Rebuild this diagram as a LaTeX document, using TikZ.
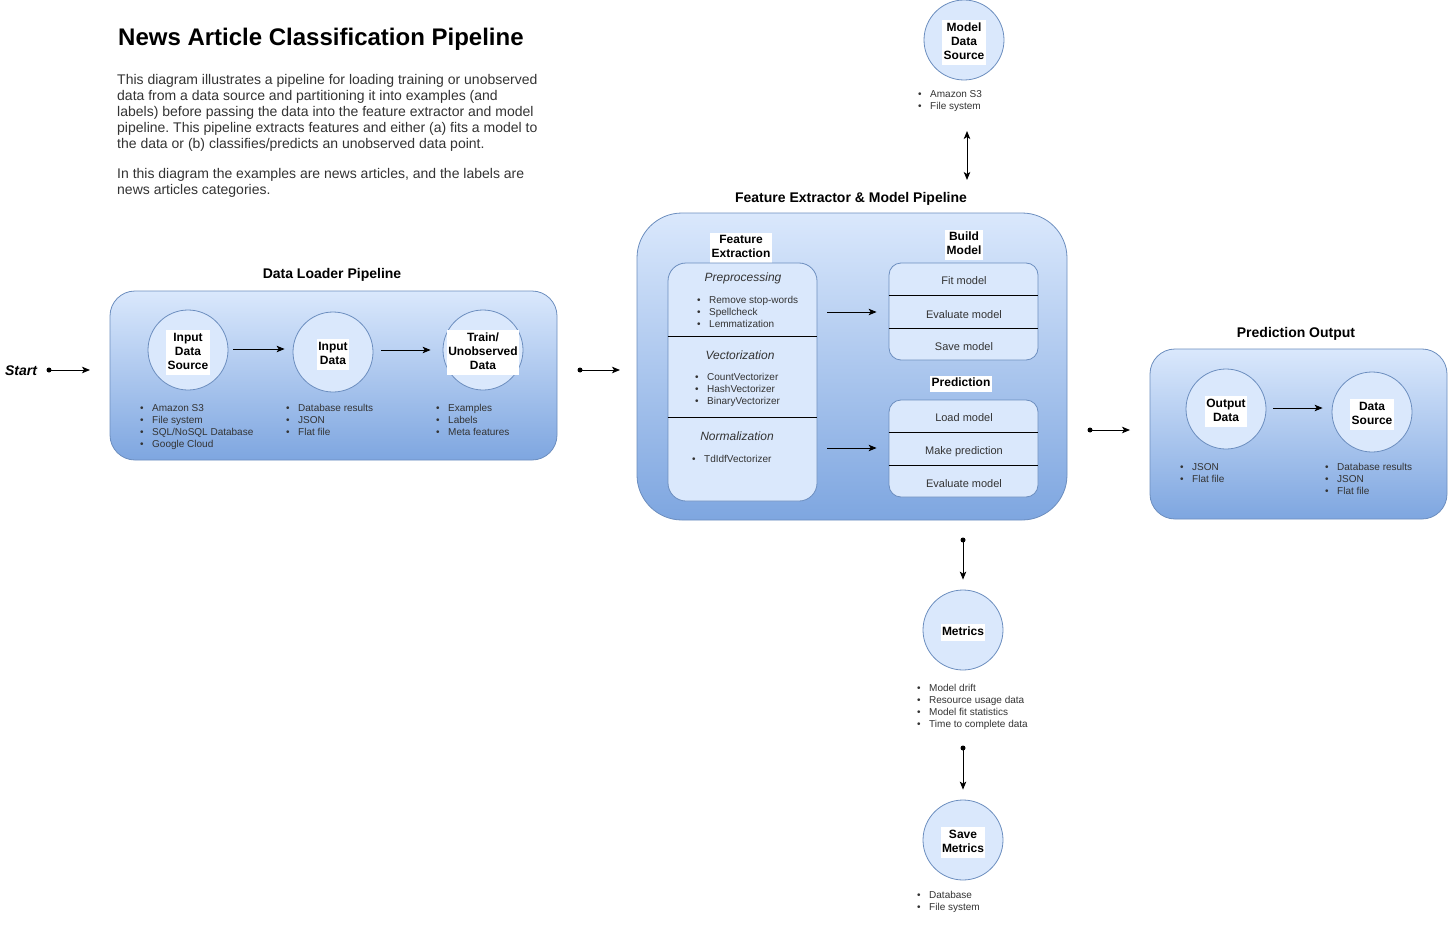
\documentclass[tikz,border=0pt]{standalone}
\usepackage{fontspec}
\setmainfont{Liberation Sans}
\usetikzlibrary{arrows.meta}
\definecolor{fillb}{HTML}{DAE8FC}
\definecolor{gradb}{HTML}{7EA6E0}
\definecolor{strokeb}{HTML}{6C8EBF}
\definecolor{txtg}{HTML}{333333}
\frenchspacing
\newcommand\wlabbox[1]{{\setlength{\fboxsep}{1.2pt}\colorbox{white}{\begin{tabular}{@{}c@{}}#1\end{tabular}}}}
\newcommand\blist[1]{{\fontsize{10}{12}\selectfont\renewcommand\arraystretch{1}\begin{tabular}{@{}l@{\hspace{8.5pt}}l@{}}#1\end{tabular}}}
\tikzset{
  cont/.style={draw=strokeb, line width=0.8pt, top color=fillb, bottom color=gradb, inner sep=0pt},
  inbox/.style={draw=strokeb, line width=0.8pt, fill=fillb, inner sep=0pt},
  circ/.style={circle, draw=strokeb, line width=0.8pt, fill=fillb, minimum size=80pt, inner sep=0pt,
    label={[inner sep=0pt, yshift=-2.5pt, font=\fontsize{12}{14}\selectfont\bfseries]center:\wlabbox{#1}}},
  sectitle/.style={font=\fontsize{14}{16}\selectfont\bfseries, inner sep=0pt, yshift=-2pt},
  bl/.style={anchor=north west, inner sep=0pt, text=txtg, yshift=-1pt},
  item/.style={font=\fontsize{11}{13}\selectfont, inner sep=0pt, text=txtg, yshift=-1.5pt},
  itit/.style={font=\fontsize{12}{14}\selectfont\itshape, inner sep=0pt, text=txtg, yshift=-2pt},
  wlab/.style={font=\fontsize{12}{14}\selectfont\bfseries, inner sep=0pt, yshift=-2pt},
  arr/.style={line width=1pt, -{Stealth[length=8pt,width=6.5pt,inset=2pt]}},
  darr/.style={line width=1pt, {Stealth[length=8pt,width=6.5pt,inset=2pt]}-{Stealth[length=8pt,width=6.5pt,inset=2pt]}},
  dot/.style={circle, fill=black, inner sep=0pt, minimum size=5pt},
  divl/.style={line width=0.8pt, draw=black}
}
\begin{document}
\begin{tikzpicture}[x=1pt,y=-1pt]
\useasboundingbox[fill=white] (0,0) rectangle (1451,931);

% Title and description
\node[anchor=west, inner sep=0pt, font=\fontsize{24}{27}\selectfont\bfseries] (title) at (118,39) {News Article Classification Pipeline};
\node[anchor=north west, inner sep=0pt, text=txtg, font=\fontsize{14}{16}\selectfont] (desc1) at (117,73)
 {\begin{tabular}{@{}l@{}}This diagram illustrates a pipeline for loading training or unobserved\\
 data from a data source and partitioning it into examples (and\\
 labels) before passing the data into the feature extractor and model\\
 pipeline. This pipeline extracts features and either (a) fits a model to\\
 the data or (b) classifies/predicts an unobserved data point.\end{tabular}};
\node[anchor=north west, inner sep=0pt, text=txtg, font=\fontsize{14}{16}\selectfont] (desc2) at (117,167)
 {\begin{tabular}{@{}l@{}}In this diagram the examples are news articles, and the labels are\\
 news articles categories.\end{tabular}};

% Start
\node[inner sep=0pt, font=\fontsize{14}{16}\selectfont\bfseries\itshape, yshift=-1pt] (start) at (21,370) {Start};
\node[dot] (sdot) at (49,370) {};
\coordinate (send) at (90,370);
\draw[arr] (sdot.center) -- (send);

% Data Loader Pipeline
\node[sectitle] (dltitle) at (332,273) {Data Loader Pipeline};
\node[cont, rounded corners=25pt, minimum width=447pt, minimum height=169pt] (dl) at (333.5,375.5) {};
\node[circ={Input\\Data\\Source}] (ids) at (188,350) {};
\node[circ={Input\\Data}] (idat) at (333,352) {};
\node[circ={Train/\\Unobserved\\Data}] (tr) at (483,350) {};
\draw[arr] ([xshift=5pt]ids.east |- 0,349) -- ([xshift=-8pt]idat.west |- 0,349);
\draw[arr] ([xshift=8pt]idat.east |- 0,350) -- ([xshift=-12pt]tr.west |- 0,350);
\node[bl] (idsl) at (140,402) {\blist{\textbullet & Amazon S3\\ \textbullet & File system\\ \textbullet & SQL/NoSQL Database\\ \textbullet & Google Cloud}};
\node[bl] (idatl) at (286,402) {\blist{\textbullet & Database results\\ \textbullet & JSON\\ \textbullet & Flat file}};
\node[bl] (trl) at (436,402) {\blist{\textbullet & Examples\\ \textbullet & Labels\\ \textbullet & Meta features}};

% Feature Extractor & Model Pipeline
\node[sectitle] (fetitle) at (851,197) {Feature Extractor \& Model Pipeline};
\node[cont, rounded corners=45pt, minimum width=430pt, minimum height=307pt] (fe) at (852,366.5) {};
\node[wlab] (felab) at (741,246) {\wlabbox{Feature\\Extraction}};
\node[inbox, rounded corners=18pt, minimum width=149pt, minimum height=238pt] (fex) at (742.5,382) {};
\draw[divl] (fex.west |- 0,336) -- (fex.east |- 0,336);
\draw[divl] (fex.west |- 0,417) -- (fex.east |- 0,417);
\node[itit] (pre) at (743,276) {Preprocessing};
\node[bl] (prel) at (697,294) {\blist{\textbullet & Remove stop-words\\ \textbullet & Spellcheck\\ \textbullet & Lemmatization}};
\node[itit] (vec) at (740,353) {Vectorization};
\node[bl] (vecl) at (695,371) {\blist{\textbullet & CountVectorizer\\ \textbullet & HashVectorizer\\ \textbullet & BinaryVectorizer}};
\node[itit] (nor) at (737,434) {Normalization};
\node[bl] (norl) at (692,453) {\blist{\textbullet & TdIdfVectorizer}};

\node[wlab] (bmlab) at (964,243) {\wlabbox{Build\\Model}};
\node[inbox, rounded corners=12pt, minimum width=149pt, minimum height=97pt] (bm) at (963.5,311.5) {};
\draw[divl] (bm.west |- 0,295) -- (bm.east |- 0,295);
\draw[divl] (bm.west |- 0,328) -- (bm.east |- 0,328);
\node[item] (fit) at (964,279) {Fit model};
\node[item] (evm) at (964,313) {Evaluate model};
\node[item] (sav) at (964,345) {Save model};

\node[wlab] (prlab) at (961,382) {\wlabbox{Prediction}};
\node[inbox, rounded corners=12pt, minimum width=149pt, minimum height=97pt] (pr) at (963.5,448.5) {};
\draw[divl] (pr.west |- 0,432) -- (pr.east |- 0,432);
\draw[divl] (pr.west |- 0,465) -- (pr.east |- 0,465);
\node[item] (lod) at (964,416) {Load model};
\node[item] (mkp) at (964,450) {Make prediction};
\node[item] (ev2) at (964,482) {Evaluate model};

\draw[arr] ([xshift=10pt]fex.east |- 0,312) -- ([xshift=-12pt]bm.west |- 0,312);
\draw[arr] ([xshift=10pt]fex.east |- 0,448) -- ([xshift=-12pt]pr.west |- 0,448);

% connection DL -> FE
\node[dot] (d1) at (580,370) {};
\coordinate (d1e) at (620,370);
\draw[arr] (d1.center) -- (d1e);

% Prediction Output
\node[sectitle] (potitle) at (1296,332) {Prediction Output};
\node[cont, rounded corners=25pt, minimum width=297pt, minimum height=170pt] (po) at (1298.5,434) {};
\node[circ={Output\\Data}] (od) at (1226,409) {};
\node[circ={Data\\Source}] (dsrc) at (1372,412) {};
\draw[arr] ([xshift=7pt]od.east |- 0,408) -- ([xshift=-9pt]dsrc.west |- 0,408);
\node[bl] (odl) at (1180,461) {\blist{\textbullet & JSON\\ \textbullet & Flat file}};
\node[bl] (dsl) at (1325,461) {\blist{\textbullet & Database results\\ \textbullet & JSON\\ \textbullet & Flat file}};

% FE -> PO
\node[dot] (d2) at (1090,430) {};
\coordinate (d2e) at (1130,430);
\draw[arr] (d2.center) -- (d2e);

% Model data source
\node[circ={Model\\Data\\Source}] (mds) at (964,40) {};
\node[bl] (mdsl) at (918,88) {\blist{\textbullet & Amazon S3\\ \textbullet & File system}};
\coordinate (ma) at (967,131);
\coordinate (mb) at (967,180);
\draw[darr] (ma) -- (mb);

% Metrics
\node[dot] (d3) at (963,540) {};
\node[circ={Metrics}] (met) at (963,630) {};
\draw[arr] (d3.center) -- ([yshift=10pt]met.north);
\node[bl] (metl) at (917,682) {\blist{\textbullet & Model drift\\ \textbullet & Resource usage data\\ \textbullet & Model fit statistics\\ \textbullet & Time to complete data}};

\node[dot] (d4) at (963,748) {};
\node[circ={Save\\Metrics}] (svm) at (963,840) {};
\draw[arr] (d4.center) -- ([yshift=10pt]svm.north);
\node[bl] (svml) at (917,889) {\blist{\textbullet & Database\\ \textbullet & File system}};
\end{tikzpicture}
\end{document}
